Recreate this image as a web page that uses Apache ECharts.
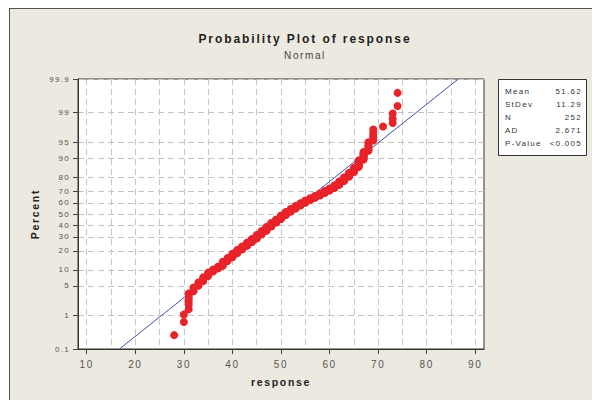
<!DOCTYPE html>
<html>
<head>
<meta charset="utf-8">
<script src="https://cdn.jsdelivr.net/npm/echarts@6/dist/echarts.min.js"></script>
<style>
  html, body { margin: 0; padding: 0; background: #ffffff; overflow: hidden; }
  #frame {
    position: absolute; left: 9px; top: 8px; width: 640px; height: 420px;
    background: #ece9e0; border-top: 1px solid #555; border-left: 1px solid #555;
  }
  #chart { position: absolute; left: 0; top: 0; width: 592px; height: 400px; }
  #chart text { letter-spacing: 0.16em; }
</style>
</head>
<body>
<div id="frame"></div>
<div id="chart"></div>
<script>
// Observed response values (distinct, ascending) and how many observations take each one
const responseValues = [28, 30, 31, 32, 33, 34, 35, 36, 37, 38, 39, 40, 41, 42, 43, 44, 45, 46, 47, 48,
                        49, 50, 51, 52, 53, 54, 55, 56, 57, 58, 59, 60, 61, 62, 63, 64, 65, 66, 67, 68,
                        69, 71, 73, 74];
const responseCounts = [1, 2, 6, 3, 3, 4, 4, 3, 3, 6, 5, 6, 6, 6, 7, 7, 8, 8, 9, 9,
                        8, 9, 8, 7, 7, 6, 6, 5, 5, 5, 5, 5, 6, 7, 7, 7, 7, 9, 8, 7,
                        6, 1, 3, 2];

// Fitted normal parameters
const MEAN = 51.62;
const STDEV = 11.29;

// Summary table
const statLabels = ['Mean', 'StDev', 'N', 'AD', 'P-Value'];
const statValues = ['51.62', '11.29', '252', '2.671', '<0.005'];

// Axis ticks
const percentTicks = [0.1, 1, 5, 10, 20, 30, 40, 50, 60, 70, 80, 90, 95, 99, 99.9];
const percentLabels = ['0.1', '1', '5', '10', '20', '30', '40', '50', '60', '70', '80', '90', '95', '99', '99.9'];
const xTickValues = [10, 20, 30, 40, 50, 60, 70, 80, 90];
const xGridValues = [10, 15, 20, 25, 30, 35, 40, 45, 50, 55, 60, 65, 70, 75, 80, 85, 90];

// Inverse standard normal CDF (Acklam's rational approximation) for the probability scale
function normInv(p) {
  const a = [-3.969683028665376e+01, 2.209460984245205e+02, -2.759285104469687e+02,
             1.383577518672690e+02, -3.066479806614716e+01, 2.506628277459239e+00];
  const b = [-5.447609879822406e+01, 1.615858368580409e+02, -1.556989798598866e+02,
             6.680131188771972e+01, -1.328068155288572e+01];
  const c = [-7.784894002430293e-03, -3.223964580411365e-01, -2.400758277161838e+00,
             -2.549671010676627e+00, 4.374664141464968e+00, 2.938163982698783e+00];
  const d = [7.784695709041462e-03, 3.224671290700398e-01, 2.445134137142996e+00,
             3.754408661907416e+00];
  const pl = 0.02425;
  let q, r;
  if (p < pl) {
    q = Math.sqrt(-2 * Math.log(p));
    return (((((c[0]*q+c[1])*q+c[2])*q+c[3])*q+c[4])*q+c[5]) / ((((d[0]*q+d[1])*q+d[2])*q+d[3])*q+1);
  }
  if (p > 1 - pl) {
    q = Math.sqrt(-2 * Math.log(1 - p));
    return -(((((c[0]*q+c[1])*q+c[2])*q+c[3])*q+c[4])*q+c[5]) / ((((d[0]*q+d[1])*q+d[2])*q+d[3])*q+1);
  }
  q = p - 0.5; r = q * q;
  return (((((a[0]*r+a[1])*r+a[2])*r+a[3])*r+a[4])*r+a[5])*q / (((((b[0]*r+b[1])*r+b[2])*r+b[3])*r+b[4])*r+1);
}

// Expand to the sorted sample and place each observation at its median-rank percentile
const sorted = [];
responseValues.forEach((v, i) => { for (let k = 0; k < responseCounts[i]; k++) sorted.push(v); });
const n = sorted.length;
const points = sorted.map((v, i) => [v, normInv((i + 1 - 0.3) / (n + 0.4))]);

const percentZ = percentTicks.map(p => normInv(p / 100));
const zMin = percentZ[0];
const zMax = percentZ[percentZ.length - 1];
const fitLine = [[MEAN + STDEV * zMin, zMin], [MEAN + STDEV * zMax, zMax]];

const FONT = '"Liberation Sans", Arial, sans-serif';
const gridDash = { color: '#c4c4c4', width: 1, type: [6, 4] };

const graphics = [
  { type: 'text', x: 305, y: 39, style: { text: 'Probability Plot of response', font: 'bold 12px ' + FONT, fill: '#222', textAlign: 'center', textVerticalAlign: 'middle' } },
  { type: 'text', x: 305, y: 55, style: { text: 'Normal', font: '10px ' + FONT, fill: '#444', textAlign: 'center', textVerticalAlign: 'middle' } },
  { type: 'rect', shape: { x: 498.5, y: 79.5, width: 88, height: 76 }, style: { fill: '#fff', stroke: '#333', lineWidth: 1 } }
];
statLabels.forEach((lab, i) => {
  const y = 91 + i * 13;
  graphics.push({ type: 'text', x: 505, y: y, style: { text: lab, font: '8px ' + FONT, fill: '#333', textAlign: 'left', textVerticalAlign: 'middle' } });
  graphics.push({ type: 'text', x: 582, y: y, style: { text: statValues[i], font: '8px ' + FONT, fill: '#333', textAlign: 'right', textVerticalAlign: 'middle' } });
});

const chart = echarts.init(document.getElementById('chart'), null, { renderer: 'svg' });
chart.setOption({
  backgroundColor: 'transparent',
  animation: false,
  grid: { left: 78, top: 79, width: 406, height: 270, show: true, backgroundColor: '#ffffff', borderColor: '#333', borderWidth: 1 },
  xAxis: [
    {
      type: 'value', min: 8.2, max: 91.8,
      name: 'response', nameLocation: 'middle', nameGap: 27,
      nameTextStyle: { fontFamily: FONT, fontWeight: 'bold', fontSize: 10.5, color: '#222' },
      axisLine: { show: true, onZero: false, lineStyle: { color: '#333' } },
      axisTick: { show: true, length: 5, inside: false, customValues: xTickValues, lineStyle: { color: '#444' } },
      axisLabel: { customValues: xTickValues, fontFamily: FONT, fontSize: 10, color: '#555', margin: 10 },
      splitLine: { show: false }
    },
    {
      type: 'value', min: 8.2, max: 91.8, position: 'bottom',
      axisLine: { show: false, onZero: false }, axisLabel: { show: false },
      axisTick: { show: false, customValues: xGridValues },
      splitLine: { show: true, lineStyle: gridDash }
    }
  ],
  yAxis: {
    type: 'value', min: zMin, max: zMax,
    name: 'Percent', nameLocation: 'middle', nameGap: 38, nameRotate: 90,
    nameTextStyle: { fontFamily: FONT, fontWeight: 'bold', fontSize: 10.5, color: '#222' },
    axisLine: { show: true, onZero: false, lineStyle: { color: '#333' } },
    axisTick: { show: true, length: 5, customValues: percentZ, lineStyle: { color: '#444' } },
    axisLabel: {
      customValues: percentZ, fontFamily: FONT, fontSize: 8, color: '#555', margin: 8,
      formatter: v => {
        const i = percentZ.findIndex(z => Math.abs(z - v) < 1e-3);
        return i >= 0 ? percentLabels[i] : '';
      }
    },
    splitLine: { show: true, lineStyle: gridDash }
  },
  series: [
    {
      type: 'line', data: fitLine, showSymbol: false, symbol: 'none',
      lineStyle: { color: '#3d50a8', width: 1 }, z: 2, silent: true
    },
    {
      type: 'scatter', data: points, symbol: 'circle', symbolSize: 8,
      itemStyle: { color: '#e8232a', opacity: 1 }, z: 3, silent: true
    }
  ],
  graphic: graphics
});
</script>
</body>
</html>
